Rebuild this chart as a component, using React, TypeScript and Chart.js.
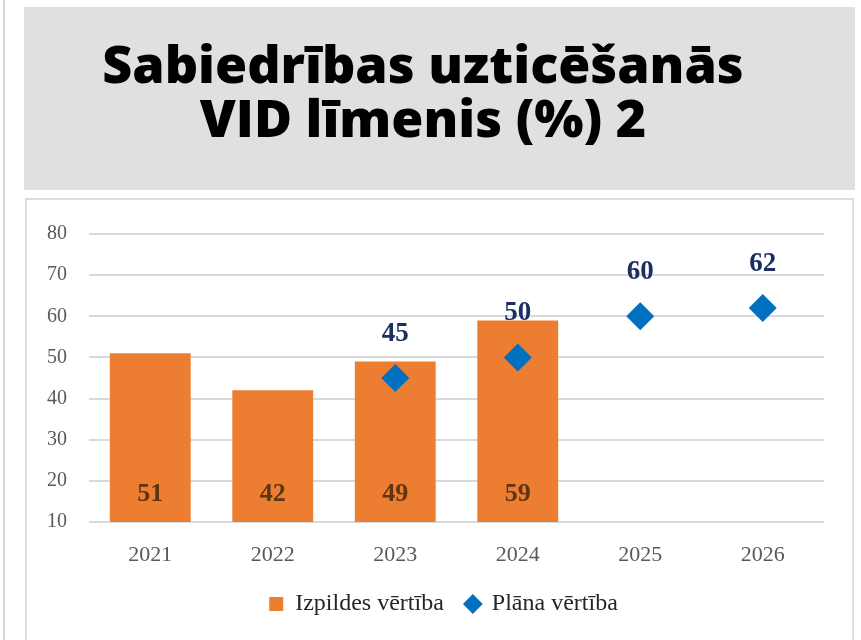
import React, { useEffect, useRef } from "react";
import { Chart, registerables } from "chart.js";

Chart.register(...registerables);
Chart.defaults.font.family = "'Liberation Serif', serif";

const categories = ["2021", "2022", "2023", "2024", "2025", "2026"];
const actualValues: (number | null)[] = [51, 42, 49, 59, null, null];
const planValues: (number | null)[] = [null, null, 45, 50, 60, 62];
const yTicks = [10, 20, 30, 40, 50, 60, 70, 80];
const seriesNames = ["Izpildes vērtība", "Plāna vērtība"];
const titleLines = ["Sabiedrības uzticēšanās", "VID līmenis (%) 2"];

const labelPlugin = {
  id: "valueLabels",
  afterDatasetsDraw(chart: any) {
    const ctx = chart.ctx;
    const yScale = chart.scales.y;
    ctx.save();
    ctx.textAlign = "center";
    ctx.textBaseline = "middle";
    const barMeta = chart.getDatasetMeta(0);
    barMeta.data.forEach((el: any, i: number) => {
      const v = actualValues[i];
      if (v == null) return;
      ctx.font = "bold 26px 'Liberation Serif'";
      ctx.fillStyle = "#5e3512";
      ctx.fillText(String(v), el.x, yScale.getPixelForValue(10) - 28);
    });
    const ptMeta = chart.getDatasetMeta(1);
    ptMeta.data.forEach((el: any, i: number) => {
      const v = planValues[i];
      if (v == null) return;
      ctx.font = "bold 27px 'Liberation Serif'";
      ctx.fillStyle = "#1c2f63";
      ctx.fillText(String(v), el.x, el.y - 44);
    });
    ctx.restore();
  },
};

// nudge the legend block slightly to the right, as in the original layout
const legendShift = {
  id: "legendShift",
  afterLayout(chart: any) {
    const lg = chart.legend;
    if (lg) {
      lg.left += 18;
      lg.right += 18;
    }
  },
};

function ChartBox() {
  const ref = useRef<HTMLCanvasElement | null>(null);
  useEffect(() => {
    if (!ref.current) return;
    const chart = new Chart(ref.current, {
      type: "bar",
      data: {
        labels: categories,
        datasets: [
          {
            type: "bar",
            label: seriesNames[0],
            data: actualValues,
            backgroundColor: "#ED7D31",
            categoryPercentage: 0.66,
            barPercentage: 1,
            pointStyle: "rect",
            order: 2,
          } as any,
          {
            type: "line",
            label: seriesNames[1],
            data: planValues,
            showLine: false,
            pointStyle: "rectRot",
            pointRadius: 14,
            pointHoverRadius: 14,
            backgroundColor: "#0070C0",
            borderColor: "#0070C0",
            borderWidth: 0,
            order: 1,
          } as any,
        ],
      },
      options: {
        animation: false,
        responsive: false,
        maintainAspectRatio: false,
        layout: { padding: { top: 30, right: 20, bottom: 14, left: 0 } },
        plugins: {
          tooltip: { enabled: false },
          legend: {
            position: "bottom",
            labels: {
              usePointStyle: true,
              boxWidth: 14,
              boxHeight: 14,
              padding: 10,
              color: "#262626",
              font: { family: "'Liberation Serif', serif", size: 24 },
              sort: (a: any, b: any) => a.datasetIndex - b.datasetIndex,
              generateLabels: (chart: any) => {
                const items = Chart.defaults.plugins.legend.labels.generateLabels(chart);
                items.forEach((it: any) => {
                  it.lineWidth = 0;
                  if (it.datasetIndex === 0) it.text = it.text + "  ";
                });
                return items;
              },
            },
          },
        },
        scales: {
          x: {
            grid: { display: false },
            border: { display: false },
            ticks: {
              color: "#595959",
              font: { family: "'Liberation Serif', serif", size: 22 },
              padding: 12,
            },
            afterFit: (s: any) => {
              s.height = 60;
            },
          },
          y: {
            min: 10,
            max: 80,
            afterBuildTicks: (s: any) => {
              s.ticks = yTicks.map((v) => ({ value: v }));
            },
            grid: { color: "#d9d9d9", lineWidth: 2, drawTicks: false },
            border: { display: false },
            ticks: {
              color: "#595959",
              font: { family: "'Liberation Serif', serif", size: 20 },
              padding: 22,
            },
            afterFit: (s: any) => {
              s.width = 62;
            },
          },
        },
      },
      plugins: [labelPlugin, legendShift],
    });
    return () => chart.destroy();
  }, []);
  return (
    <canvas
      ref={ref}
      width={817}
      height={440}
      style={{ position: "absolute", left: 27, top: 200, width: 817, height: 440 }}
    />
  );
}

export default function App() {
  return (
    <div
      style={{
        position: "fixed",
        left: 0,
        top: 0,
        width: 861,
        height: 640,
        background: "#ffffff",
        overflow: "hidden",
      }}
    >
      <div style={{ position: "absolute", left: 3, top: 0, width: 2, height: 640, background: "#d6d6d6" }} />
      <div
        style={{
          position: "absolute",
          left: 24,
          top: 7,
          width: 831,
          height: 183,
          background: "#e0e0e0",
        }}
      >
        <div
          style={{
            position: "absolute",
            left: 0,
            top: 29,
            width: 798,
            textAlign: "center",
            fontFamily: "'Open Sans', sans-serif",
            fontWeight: 800,
            fontSize: 52,
            lineHeight: "54px",
            color: "#000",
          }}
        >
          <div>{titleLines[0]}</div>
          <div>{titleLines[1]}</div>
        </div>
      </div>
      <div
        style={{
          position: "absolute",
          left: 25,
          top: 198,
          width: 829,
          height: 460,
          border: "2px solid #dcdcdc",
          boxSizing: "border-box",
          background: "#fff",
        }}
      />
      <ChartBox />
    </div>
  );
}
